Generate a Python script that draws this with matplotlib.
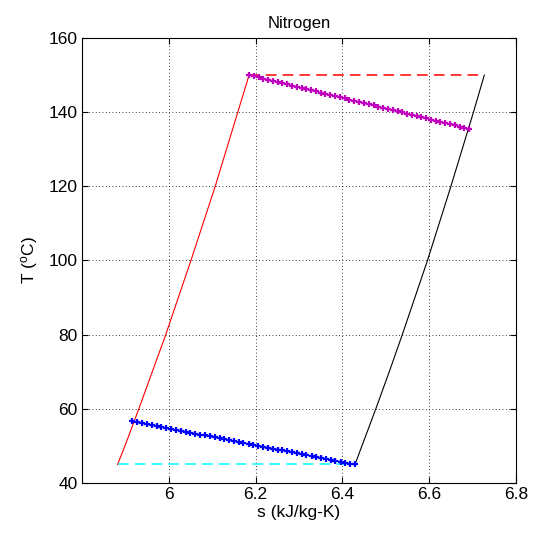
import matplotlib
matplotlib.use("Agg")
import matplotlib.pyplot as plt

plt.rcParams['font.family'] = ['Liberation Sans', 'DejaVu Sans']
plt.rcParams['mathtext.fontset'] = 'custom'
plt.rcParams['mathtext.rm'] = 'Liberation Sans'
plt.rcParams['mathtext.it'] = 'Liberation Sans'

# isobars (red: high pressure side, black: low pressure side)
T_iso = [45, 50, 60, 70, 80, 90, 100, 110, 120, 130, 140, 150]
s_hot_iso = [5.882, 5.899, 5.931, 5.962, 5.993, 6.022, 6.051, 6.079, 6.107, 6.133, 6.159, 6.185]
s_cold_iso = [6.429, 6.445, 6.477, 6.508, 6.538, 6.567, 6.596, 6.623, 6.650, 6.676, 6.702, 6.727]

# constant temperature lines
s_top = [6.185, 6.727]
T_top = [150, 150]
s_bot = [5.882, 6.429]
T_bot = [45, 45]

# cold stream (blue)
s_blue = [5.916, 5.927, 5.938, 5.949, 5.961, 5.972, 5.983, 5.994, 6.005, 6.016,
          6.028, 6.039, 6.050, 6.061, 6.072, 6.083, 6.094, 6.106, 6.117, 6.128,
          6.139, 6.150, 6.161, 6.172, 6.184, 6.195, 6.206, 6.217, 6.228, 6.239,
          6.251, 6.262, 6.273, 6.284, 6.295, 6.306, 6.317, 6.329, 6.340, 6.351,
          6.362, 6.373, 6.384, 6.396, 6.407, 6.418, 6.429]
T_blue = [56.60, 56.35, 56.10, 55.84, 55.59, 55.34, 55.09, 54.83, 54.58, 54.33,
          54.08, 53.83, 53.57, 53.32, 53.07, 52.82, 52.57, 52.31, 52.06, 51.81,
          51.56, 51.30, 51.05, 50.80, 50.55, 50.30, 50.04, 49.79, 49.54, 49.29,
          49.03, 48.78, 48.53, 48.28, 48.03, 47.77, 47.52, 47.27, 47.02, 46.77,
          46.51, 46.26, 46.01, 45.76, 45.50, 45.25, 45.00]

# hot stream (magenta)
s_mag = [6.185, 6.196, 6.207, 6.218, 6.229, 6.240, 6.251, 6.262, 6.273, 6.284,
         6.295, 6.306, 6.317, 6.328, 6.339, 6.350, 6.361, 6.372, 6.383, 6.394,
         6.405, 6.416, 6.427, 6.438, 6.450, 6.461, 6.472, 6.483, 6.494, 6.505,
         6.516, 6.527, 6.538, 6.549, 6.560, 6.571, 6.582, 6.593, 6.604, 6.615,
         6.626, 6.637, 6.648, 6.659, 6.670, 6.681, 6.692]
T_mag = [150.00, 149.68, 149.37, 149.05, 148.74, 148.42, 148.11, 147.79, 147.48, 147.16,
         146.85, 146.53, 146.22, 145.90, 145.59, 145.27, 144.96, 144.64, 144.33, 144.01,
         143.70, 143.38, 143.07, 142.75, 142.43, 142.12, 141.80, 141.49, 141.17, 140.86,
         140.54, 140.23, 139.91, 139.60, 139.28, 138.97, 138.65, 138.34, 138.02, 137.71,
         137.39, 137.08, 136.76, 136.45, 136.13, 135.82, 135.50]

xticks = [6, 6.2, 6.4, 6.6, 6.8]
yticks = [40, 60, 80, 100, 120, 140, 160]

fig = plt.figure(figsize=(5.33, 5.39), dpi=100)
ax = fig.add_axes([0.1538, 0.1039, 0.8143, 0.8256])

ax.plot(s_hot_iso, T_iso, color='r', lw=0.8)
ax.plot(s_cold_iso, T_iso, color='k', lw=0.8)
ax.plot(s_top, T_top, color='#ff0000', lw=1.1, ls=(0, (7, 4)))
ax.plot(s_bot, T_bot, color='#00ffff', lw=1.1, ls=(0, (7, 4)))
ax.plot(s_blue, T_blue, color='b', lw=1.0, marker='+', ms=5, mew=1.6)
ax.plot(s_mag, T_mag, color='m', lw=1.0, marker='+', ms=5, mew=1.6)

ax.set_xlim(5.8, 6.8)
ax.set_ylim(40, 160)
ax.set_xticks(xticks)
ax.set_xticklabels(['6', '6.2', '6.4', '6.6', '6.8'])
ax.set_yticks(yticks)
ax.tick_params(direction='in', top=True, right=True, labelsize=12.5, length=4, pad=3)
ax.grid(True, color='k', ls=(0, (1, 3)), lw=0.6)

ax.set_xlabel('s (kJ/kg-K)', fontsize=12.5, labelpad=2)
ax.set_ylabel(r'T ($^o$C)', fontsize=12.5, labelpad=6)
ax.set_title('Nitrogen', fontsize=12, pad=7)

fig.savefig('out.png', dpi=100)
